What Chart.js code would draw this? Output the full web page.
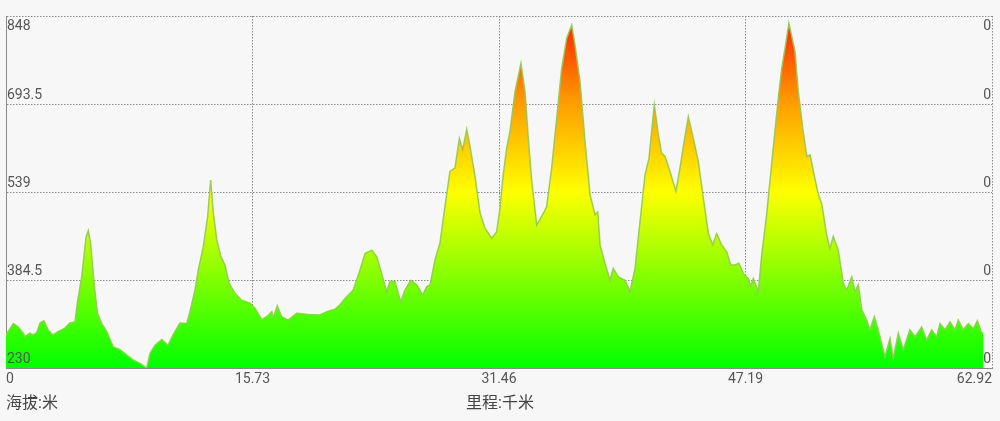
<!DOCTYPE html>
<html>
<head>
<meta charset="utf-8">
<script src="https://cdn.jsdelivr.net/npm/chart.js@4/dist/chart.umd.min.js"></script>
<style>
  html, body { margin: 0; padding: 0; background: #f7f7f7; }
  #wrap { width: 1000px; height: 421px; position: relative; }
</style>
</head>
<body>
<div id="wrap"><canvas id="perfilChart"></canvas></div>
<script>
const distanciaKm = [
  0.00, 0.47, 0.78, 1.10, 1.21, 1.53, 1.72, 1.96, 2.17, 2.42, 2.68, 3.00, 3.32, 3.76, 4.08, 4.40,
  4.55, 4.83, 5.11, 5.25, 5.40, 5.62, 5.83, 6.11, 6.43, 6.85, 7.27, 7.70, 8.12, 8.55, 8.98, 9.19,
  9.51, 9.94, 10.34, 10.66, 11.10, 11.53, 11.74, 12.06, 12.27, 12.59, 12.87, 13.06, 13.23, 13.45, 13.72, 13.97,
  14.23, 14.61, 15.04, 15.57, 15.89, 16.32, 16.64, 16.96, 17.06, 17.31, 17.59, 18.01, 18.55, 19.29, 20.04, 20.47,
  20.99, 21.31, 21.74, 22.16, 22.59, 22.91, 23.12, 23.34, 23.66, 23.97, 24.29, 24.50, 24.82, 25.19, 25.46, 25.83,
  26.21, 26.59, 26.85, 27.06, 27.38, 27.69, 28.01, 28.33, 28.65, 28.93, 29.14, 29.40, 29.61, 29.93, 30.25, 30.57,
  30.99, 31.31, 31.52, 31.73, 31.95, 32.16, 32.48, 32.86, 33.12, 33.33, 33.55, 33.87, 34.18, 34.50, 34.82, 35.14,
  35.46, 35.78, 36.10, 36.31, 36.63, 36.95, 37.27, 37.59, 37.76, 37.91, 38.22, 38.54, 38.75, 39.07, 39.50, 39.82,
  40.14, 40.46, 40.78, 41.03, 41.37, 41.63, 41.84, 42.05, 42.37, 42.75, 43.01, 43.27, 43.54, 43.86, 44.18, 44.50,
  44.82, 45.10, 45.35, 45.67, 45.99, 46.24, 46.52, 46.77, 47.05, 47.37, 47.52, 47.69, 48.01, 48.22, 48.54, 48.96,
  49.28, 49.50, 49.71, 49.96, 50.14, 50.35, 50.56, 50.84, 51.10, 51.31, 51.52, 51.84, 52.05, 52.20, 52.37, 52.58,
  52.79, 53.11, 53.43, 53.65, 53.97, 54.18, 54.39, 54.61, 54.92, 55.13, 55.41, 55.66, 56.09, 56.41, 56.62, 56.94,
  57.26, 57.68, 58.01, 58.43, 58.75, 59.07, 59.39, 59.60, 59.92, 60.24, 60.56, 60.77, 61.09, 61.41, 61.73, 61.99,
  62.25, 62.36
];
const altitudM = [
  288, 308, 302, 291, 285, 291, 288, 292, 309, 313, 297, 288, 294, 300, 309, 311,
  344, 390, 460, 471, 449, 379, 327, 308, 294, 267, 262, 253, 244, 238, 230, 256,
  270, 280, 270, 288, 309, 308, 329, 367, 402, 443, 496, 560, 502, 455, 425, 411,
  379, 361, 349, 344, 335, 315, 320, 329, 318, 339, 320, 314, 326, 324, 323, 329,
  333, 341, 355, 367, 402, 431, 434, 437, 425, 396, 364, 382, 382, 346, 367, 384,
  376, 358, 373, 376, 420, 449, 513, 575, 581, 633, 613, 649, 619, 566, 502, 475,
  458, 469, 510, 569, 616, 645, 715, 765, 715, 633, 557, 481, 496, 513, 581, 668,
  756, 809, 832, 797, 733, 627, 534, 499, 504, 446, 414, 384, 405, 390, 384, 364,
  405, 487, 569, 598, 692, 639, 607, 602, 575, 540, 581, 627, 671, 633, 592, 528,
  466, 446, 466, 446, 434, 411, 411, 414, 396, 387, 373, 387, 364, 428, 499, 616,
  703, 756, 791, 835, 812, 785, 715, 651, 601, 604, 575, 534, 519, 493, 463, 440,
  461, 437, 379, 367, 390, 364, 376, 332, 314, 297, 320, 297, 250, 282, 247, 291,
  262, 297, 285, 302, 279, 297, 285, 308, 297, 311, 297, 314, 297, 308, 299, 313,
  292, 292
];

// Marcas de los ejes
const ticksX = [0, 15.73, 31.46, 47.19, 62.92];
const ticksY = [230, 384.5, 539, 693.5, 848];
const ticksYDerecha = ['0', '0', '0', '0', '0'];
const tituloY = '海拔:米';
const tituloX = '里程:千米';

const fuente = '"Roboto", "Noto Sans", "Noto Sans CJK SC", sans-serif';

// Degradado vertical según la altitud: verde abajo, amarillo al centro, rojo arriba
function degradado(context) {
  const chart = context.chart;
  const area = chart.chartArea;
  if (!area) return '#33ff00';
  const g = chart.ctx.createLinearGradient(0, area.bottom, 0, area.top);
  g.addColorStop(0, '#00ff00');
  g.addColorStop(0.5, '#ffff00');
  g.addColorStop(0.76, '#ff9a00');
  g.addColorStop(1, '#ff1a00');
  return g;
}

// Etiquetas dibujadas dentro del área, como en la app original
const etiquetasPlugin = {
  id: 'etiquetas',
  afterDraw(chart) {
    const ctx = chart.ctx;
    const area = chart.chartArea;
    const sx = chart.scales.x;
    const sy = chart.scales.y;
    ctx.save();
    ctx.fillStyle = '#555';
    ctx.font = '14px ' + fuente;

    ticksY.forEach((v, i) => {
      const y = sy.getPixelForValue(v);
      const arriba = i === ticksY.length - 1;
      ctx.textBaseline = arriba ? 'top' : 'bottom';
      const ty = arriba ? y + 3 : y - 2;
      ctx.textAlign = 'left';
      ctx.fillText(String(v), area.left + 1, ty);
      ctx.textAlign = 'right';
      ctx.fillText(ticksYDerecha[i], area.right - 1, ty);
    });

    ctx.textBaseline = 'top';
    ticksX.forEach((v, i) => {
      const x = sx.getPixelForValue(v);
      if (i === 0) ctx.textAlign = 'left';
      else if (i === ticksX.length - 1) ctx.textAlign = 'right';
      else ctx.textAlign = 'center';
      ctx.fillText(String(v), x, area.bottom + 4);
    });

    ctx.fillStyle = '#444';
    ctx.font = '16px ' + fuente;
    ctx.textAlign = 'left';
    ctx.fillText(tituloY, area.left, area.bottom + 28);
    ctx.textAlign = 'center';
    ctx.fillText(tituloX, chart.width / 2, area.bottom + 28);
    ctx.restore();
  }
};

const puntos = distanciaKm.map((d, i) => ({ x: d, y: altitudM[i] }));

const rejilla = { color: '#8a8a8a', lineWidth: 1, drawTicks: false };
const borde = { display: true, color: '#8a8a8a', width: 1, dash: [1.5, 1.5] };

new Chart(document.getElementById('perfilChart'), {
  type: 'line',
  data: {
    datasets: [{
      data: puntos,
      borderColor: 'rgba(150, 200, 90, 0.95)',
      borderWidth: 1.5,
      backgroundColor: degradado,
      fill: 'start',
      pointRadius: 0,
      tension: 0
    }]
  },
  options: {
    responsive: true,
    maintainAspectRatio: false,
    animation: false,
    layout: { padding: { left: 6, right: 8, top: 16, bottom: 53 } },
    plugins: {
      legend: { display: false },
      tooltip: { enabled: false }
    },
    scales: {
      x: {
        type: 'linear',
        min: 0,
        max: 62.92,
        afterBuildTicks: (scale) => { scale.ticks = ticksX.map(v => ({ value: v })); },
        ticks: { display: false },
        grid: rejilla,
        border: borde
      },
      y: {
        min: 230,
        max: 848,
        afterBuildTicks: (scale) => { scale.ticks = ticksY.map(v => ({ value: v })); },
        ticks: { display: false },
        grid: rejilla,
        border: borde
      }
    }
  },
  plugins: [etiquetasPlugin]
});
</script>
</body>
</html>
